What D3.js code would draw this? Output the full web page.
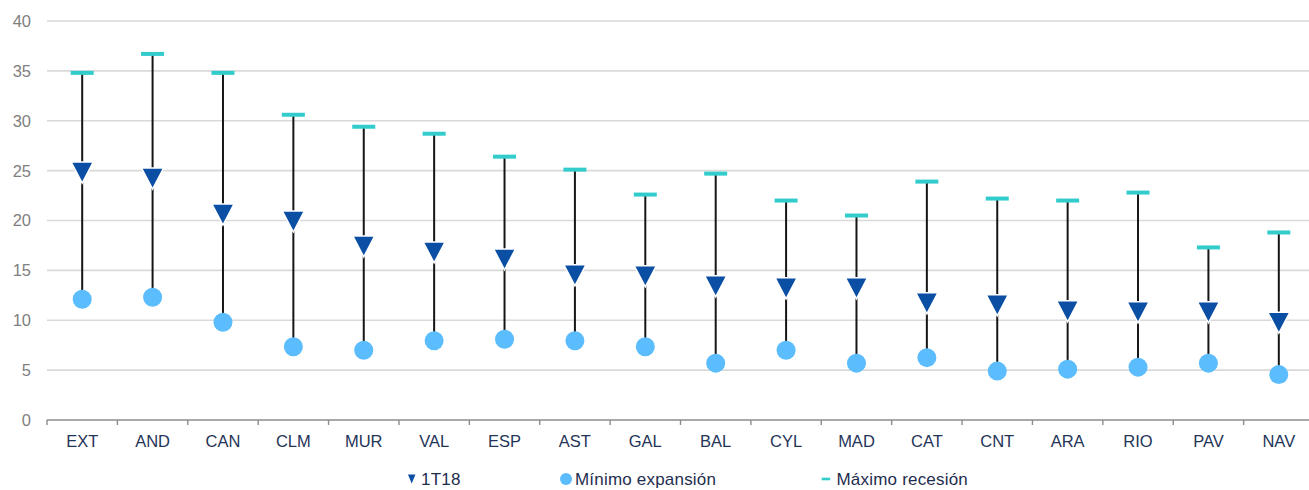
<!DOCTYPE html>
<html>
<head>
<meta charset="utf-8">
<script src="https://cdn.jsdelivr.net/npm/d3@7"></script>
<style>
  html, body { margin: 0; padding: 0; background: #fff; }
  svg { display: block; font-family: "Liberation Sans", Arial, sans-serif; }
</style>
</head>
<body>
<svg id="chart" width="1309" height="490"></svg>
<script>
const categories = ["EXT","AND","CAN","CLM","MUR","VAL","ESP","AST","GAL","BAL","CYL","MAD","CAT","CNT","ARA","RIO","PAV","NAV"];
const t118   = [24.8,24.2,20.6,19.9,17.4,16.8,16.1,14.5,14.4,13.4,13.2,13.2,11.7,11.5,10.9,10.8,10.8,9.75];
const minExp = [12.1,12.3,9.8,7.35,7.0,7.95,8.1,7.95,7.35,5.7,7.0,5.7,6.25,4.9,5.1,5.3,5.7,4.55];
const maxRec = [34.8,36.7,34.8,30.6,29.4,28.7,26.4,25.1,22.6,24.7,22.0,20.5,23.9,22.2,22.0,22.8,17.3,18.8];
const yTicks = [0,5,10,15,20,25,30,35,40];
const legendLabels = ["1T18","Mínimo expansión","Máximo recesión"];

(function () {
const W = 1309;
const pLeft = 47, pRight = 1314, pTop = 21, pBottom = 420;
const svg = d3.select("#chart");

const x = d3.scaleBand().domain(categories).range([pLeft, pRight]).padding(0);
const y = d3.scaleLinear().domain([0, 40]).range([pBottom, pTop]);

// gridlines
svg.append("g")
  .selectAll("line").data(yTicks.filter(d => d > 0)).join("line")
  .attr("x1", pLeft).attr("x2", W)
  .attr("y1", d => y(d)).attr("y2", d => y(d))
  .attr("stroke", "#d9d9d9").attr("stroke-width", 1.6);

// y labels
svg.append("g")
  .selectAll("text").data(yTicks).join("text")
  .attr("x", 31).attr("y", d => y(d)).attr("dy", "0.36em")
  .attr("text-anchor", "end")
  .attr("fill", "#808080").attr("font-size", "16.5px")
  .text(d => d);

// x axis line and ticks at band boundaries
svg.append("line")
  .attr("x1", pLeft).attr("x2", W).attr("y1", pBottom).attr("y2", pBottom)
  .attr("stroke", "#8c8c8c").attr("stroke-width", 1.6);
const bounds = categories.map(c => x(c));
svg.append("g").selectAll("line").data(bounds).join("line")
  .attr("x1", d => d).attr("x2", d => d)
  .attr("y1", pBottom).attr("y2", pBottom + 5)
  .attr("stroke", "#8c8c8c").attr("stroke-width", 1.4);

// x labels
svg.append("g").selectAll("text").data(categories).join("text")
  .attr("x", d => x(d) + x.bandwidth() / 2)
  .attr("y", 446.5)
  .attr("text-anchor", "middle")
  .attr("fill", "#1f3458").attr("font-size", "16.5px")
  .text(d => d);

const cx = i => x(categories[i]) + x.bandwidth() / 2;

// vertical range lines
svg.append("g").selectAll("line").data(categories).join("line")
  .attr("x1", (d, i) => cx(i)).attr("x2", (d, i) => cx(i))
  .attr("y1", (d, i) => y(minExp[i])).attr("y2", (d, i) => y(maxRec[i]))
  .attr("stroke", "#151515").attr("stroke-width", 2);

// max recession dashes
svg.append("g").selectAll("rect").data(categories).join("rect")
  .attr("x", (d, i) => cx(i) - 11.5).attr("y", (d, i) => y(maxRec[i]) - 2)
  .attr("width", 23).attr("height", 4)
  .attr("fill", "#33cccc");

// min expansion circles
svg.append("g").selectAll("circle").data(categories).join("circle")
  .attr("cx", (d, i) => cx(i)).attr("cy", (d, i) => y(minExp[i]))
  .attr("r", 9.5).attr("fill", "#5bbdfd");

// 1T18 triangles
function tri(px, py, w, h) {
  const p = d3.path();
  p.moveTo(px - w / 2, py - h / 2);
  p.lineTo(px + w / 2, py - h / 2);
  p.lineTo(px, py + h / 2);
  p.closePath();
  return p.toString();
}
svg.append("g").selectAll("path").data(categories).join("path")
  .attr("d", (d, i) => tri(cx(i), y(t118[i]), 22, 21))
  .attr("fill", "#0b4fa5").attr("stroke", "#ffffff").attr("stroke-width", 1.5)
  .attr("stroke-linejoin", "miter");

// legend
const lg = svg.append("g");
const ly = 479;
lg.append("path").attr("d", tri(411.7, ly, 7.5, 9)).attr("fill", "#0b4fa5");
lg.append("circle").attr("cx", 566).attr("cy", ly).attr("r", 6).attr("fill", "#5bbdfd");
lg.append("rect").attr("x", 821.7).attr("y", ly - 1.3).attr("width", 8.5).attr("height", 2.6).attr("fill", "#33cccc");
const lx = [421, 575, 836.5];
lg.selectAll("text").data(legendLabels).join("text")
  .attr("x", (d, i) => lx[i]).attr("y", 485)
  .attr("fill", "#1f2d4f").attr("font-size", "17px")
  .attr("letter-spacing", "0.2px")
  .text(d => d);
})();
</script>
</body>
</html>
